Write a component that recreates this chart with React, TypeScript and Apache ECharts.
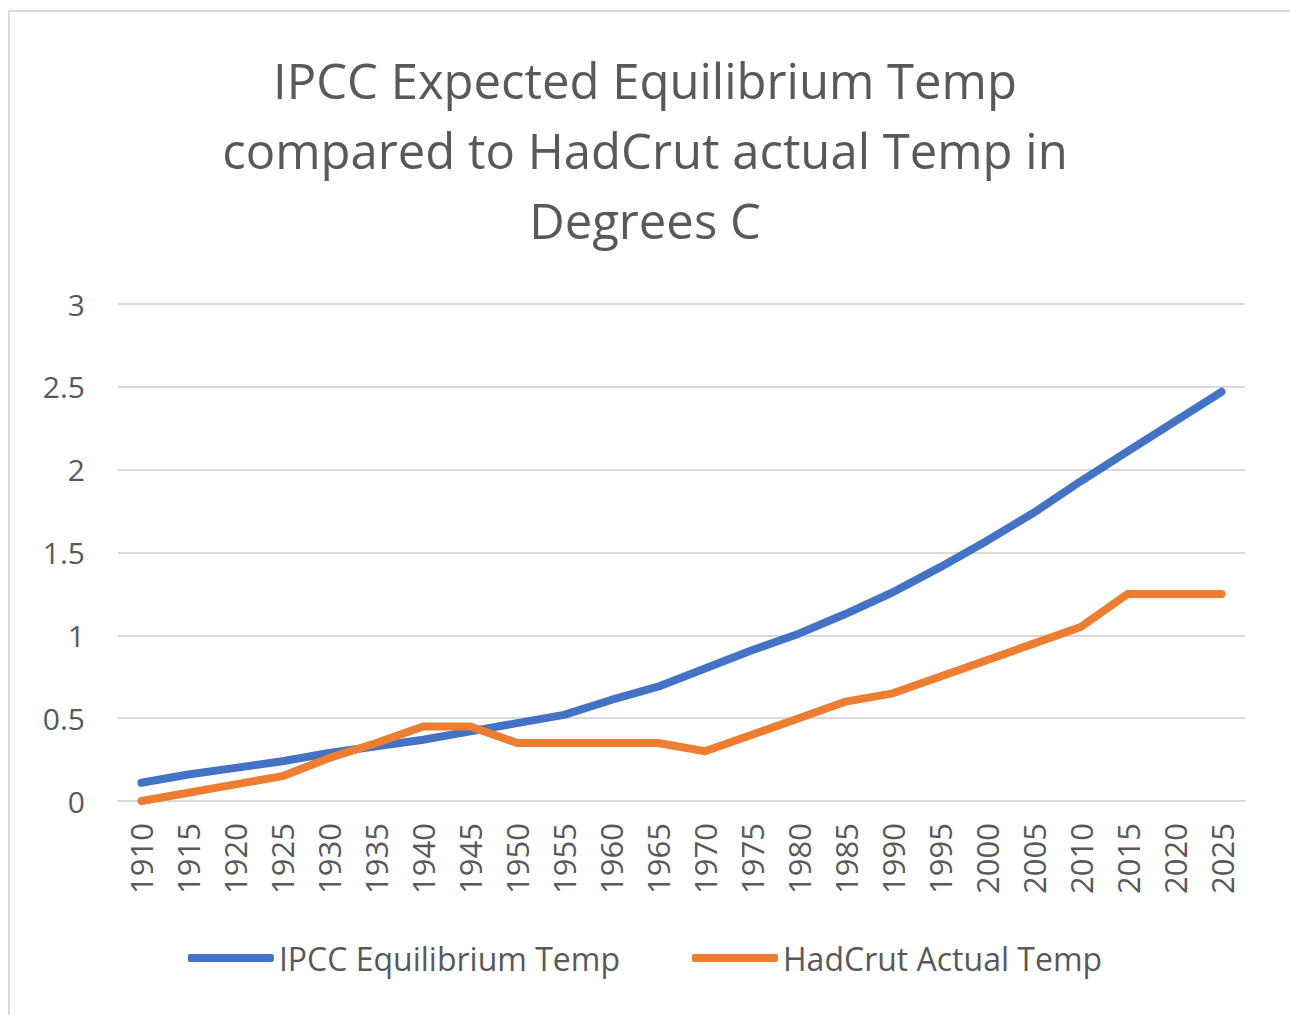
import React, { useEffect, useRef } from "react";
import * as echarts from "echarts";

const years = ["1910","1915","1920","1925","1930","1935","1940","1945","1950","1955","1960","1965","1970","1975","1980","1985","1990","1995","2000","2005","2010","2015","2020","2025"];
const ipcc = [0.11,0.16,0.2,0.24,0.29,0.33,0.37,0.42,0.47,0.52,0.61,0.69,0.8,0.91,1.01,1.13,1.26,1.41,1.57,1.74,1.93,2.11,2.29,2.47];
const hadcrut = [0.0,0.05,0.1,0.15,0.26,0.35,0.45,0.45,0.35,0.35,0.35,0.35,0.3,0.4,0.5,0.6,0.65,0.75,0.85,0.95,1.05,1.25,1.25,1.25];
const titleText = "IPCC Expected Equilibrium Temp\ncompared to HadCrut actual Temp in\nDegrees C";
const seriesNames = ["IPCC Equilibrium Temp", "HadCrut Actual Temp"];

const FONT = "'Open Sans', 'Noto Sans', sans-serif";

export default function App() {
  const ref = useRef<HTMLDivElement>(null);
  useEffect(() => {
    if (!ref.current) return;
    const chart = echarts.init(ref.current, null, { renderer: "svg" });
    chart.setOption({
      animation: false,
      backgroundColor: "#ffffff",
      textStyle: { fontFamily: FONT },
      title: {
        text: titleText,
        left: "center",
        top: 40,
        textStyle: {
          fontFamily: FONT,
          fontSize: 49,
          fontWeight: "normal",
          color: "#595959",
          lineHeight: 70,
        },
      },
      graphic: [
        {
          type: "rect",
          shape: { x: 9, y: 11, width: 1290, height: 1020 },
          style: { fill: "none", stroke: "#d9d9d9", lineWidth: 2 },
          silent: true,
        },
      ],
      legend: {
        bottom: 36,
        left: "center",
        icon: "roundRect",
        itemWidth: 86,
        itemHeight: 8,
        itemGap: 72,
        textStyle: { fontFamily: FONT, fontSize: 32, color: "#595959", padding: [0, 0, 0, 0] },
        data: seriesNames,
      },
      grid: { left: 118, right: 45, top: 304, bottom: 214, containLabel: false },
      xAxis: {
        type: "category",
        data: years,
        boundaryGap: true,
        axisLine: { show: true, lineStyle: { color: "#d9d9d9", width: 2 } },
        axisTick: { show: false },
        axisLabel: {
          rotate: 90,
          margin: 22,
          fontFamily: FONT,
          fontSize: 31,
          color: "#595959",
          interval: 0,
        },
      },
      yAxis: {
        type: "value",
        min: 0,
        max: 3,
        interval: 0.5,
        axisLine: { show: false },
        axisTick: { show: false },
        splitLine: { lineStyle: { color: "#d9d9d9", width: 2 } },
        axisLabel: {
          margin: 33,
          fontFamily: FONT,
          fontSize: 30,
          color: "#595959",
        },
      },
      series: [
        {
          name: seriesNames[0],
          type: "line",
          data: ipcc,
          showSymbol: false,
          symbol: "none",
          lineStyle: { color: "#4472c4", width: 8, cap: "round", join: "round" },
          itemStyle: { color: "#4472c4" },
        },
        {
          name: seriesNames[1],
          type: "line",
          data: hadcrut,
          showSymbol: false,
          symbol: "none",
          lineStyle: { color: "#ed7d31", width: 8, cap: "round", join: "round" },
          itemStyle: { color: "#ed7d31" },
        },
      ],
    });
    return () => chart.dispose();
  }, []);
  return (
    <div
      ref={ref}
      style={{ position: "absolute", left: 0, top: 0, width: 1290, height: 1015 }}
    />
  );
}
